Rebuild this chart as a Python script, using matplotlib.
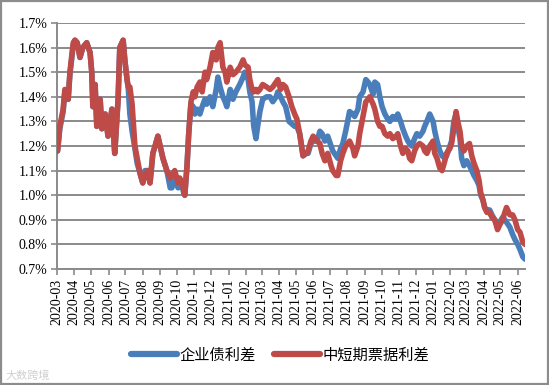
import matplotlib
matplotlib.use("Agg")
import matplotlib.pyplot as plt
import matplotlib.dates as mdates
import pandas as pd
from matplotlib.patches import Rectangle
from matplotlib.ticker import FuncFormatter

dates = [
    "2020-03-02","2020-03-06","2020-03-12","2020-03-15","2020-03-21","2020-03-24","2020-03-30",
    "2020-04-02","2020-04-06","2020-04-11","2020-04-16","2020-04-23","2020-04-29",
    "2020-05-02","2020-05-04","2020-05-08","2020-05-11","2020-05-17","2020-05-20","2020-05-26","2020-05-31",
    "2020-06-07","2020-06-12","2020-06-18","2020-06-21","2020-06-27","2020-06-30",
    "2020-07-04","2020-07-06","2020-07-09","2020-07-13","2020-07-18","2020-07-22","2020-07-27",
    "2020-08-01","2020-08-05","2020-08-10","2020-08-14","2020-08-19","2020-08-23","2020-08-28",
    "2020-09-01","2020-09-06","2020-09-13","2020-09-19","2020-09-22","2020-09-27",
    "2020-10-03","2020-10-06","2020-10-10","2020-10-13","2020-10-15","2020-10-19","2020-10-22","2020-10-26","2020-10-30",
    "2020-11-02","2020-11-06","2020-11-11","2020-11-15","2020-11-20","2020-11-23","2020-11-29",
    "2020-12-04","2020-12-10","2020-12-13","2020-12-17","2020-12-22","2020-12-26","2020-12-29",
    "2021-01-04","2021-01-09","2021-01-14","2021-01-21","2021-01-27","2021-01-30",
    "2021-02-05","2021-02-08","2021-02-12","2021-02-15","2021-02-19","2021-02-22","2021-02-26",
    "2021-03-03","2021-03-10","2021-03-16","2021-03-21","2021-03-27","2021-03-30",
    "2021-04-04","2021-04-08","2021-04-13","2021-04-19","2021-04-24","2021-04-29",
    "2021-05-03","2021-05-08","2021-05-14","2021-05-19","2021-05-23","2021-05-28",
    "2021-06-01","2021-06-08","2021-06-13","2021-06-17","2021-06-22","2021-06-27",
    "2021-07-03","2021-07-06","2021-07-12","2021-07-15","2021-07-20","2021-07-24","2021-07-29",
    "2021-08-05","2021-08-11","2021-08-14","2021-08-20","2021-08-23","2021-08-29",
    "2021-09-03","2021-09-07","2021-09-10","2021-09-16","2021-09-19","2021-09-24","2021-09-28",
    "2021-10-02","2021-10-07","2021-10-12","2021-10-16","2021-10-21","2021-10-27","2021-10-30",
    "2021-11-04","2021-11-08","2021-11-13","2021-11-17","2021-11-20","2021-11-24","2021-11-29",
    "2021-12-03","2021-12-08","2021-12-14","2021-12-17","2021-12-21","2021-12-26",
    "2022-01-01","2022-01-04","2022-01-08","2022-01-13","2022-01-17","2022-01-22","2022-01-25","2022-01-31",
    "2022-02-03","2022-02-07","2022-02-11","2022-02-14","2022-02-18","2022-02-21","2022-02-25",
    "2022-03-02","2022-03-07","2022-03-11","2022-03-15","2022-03-20","2022-03-24","2022-03-27","2022-03-31",
    "2022-04-03","2022-04-07","2022-04-12","2022-04-16","2022-04-21","2022-04-26","2022-04-30",
    "2022-05-05","2022-05-09","2022-05-12","2022-05-18","2022-05-23","2022-05-27",
    "2022-06-01","2022-06-05","2022-06-10","2022-06-14",
]

corp_bond = [  # 企业债利差 (%)
    1.18,1.27,1.34,1.42,1.39,1.49,1.61,
    1.63,1.62,1.56,1.60,1.62,1.58,
    1.50,1.36,1.45,1.28,1.39,1.27,1.33,1.24,
    1.35,1.17,1.39,1.60,1.63,1.55,
    1.47,1.44,1.33,1.26,1.19,1.13,1.09,
    1.05,1.10,1.10,1.05,1.17,1.20,1.24,
    1.20,1.15,1.10,1.03,1.03,1.08,
    1.03,1.06,1.04,1.01,1.00,1.12,1.25,1.37,1.36,
    1.33,1.35,1.33,1.36,1.39,1.37,1.40,
    1.36,1.43,1.48,1.44,1.40,1.38,1.36,
    1.43,1.39,1.42,1.45,1.48,1.50,
    1.47,1.42,1.38,1.28,1.23,1.28,1.34,
    1.39,1.40,1.40,1.38,1.40,1.42,
    1.40,1.38,1.36,1.30,1.29,1.28,
    1.28,1.25,1.16,1.17,1.17,1.21,
    1.22,1.22,1.26,1.25,1.22,1.24,
    1.20,1.18,1.16,1.15,1.19,1.21,1.26,
    1.34,1.33,1.32,1.35,1.40,1.42,
    1.47,1.46,1.45,1.41,1.46,1.45,1.40,
    1.36,1.33,1.31,1.30,1.32,1.31,1.33,
    1.30,1.27,1.24,1.22,1.21,1.20,1.23,
    1.25,1.24,1.26,1.28,1.30,1.33,
    1.30,1.26,1.22,1.18,1.16,1.15,1.16,1.20,
    1.22,1.30,1.33,1.28,1.23,1.15,1.12,
    1.14,1.12,1.10,1.08,1.06,1.04,1.00,0.98,
    0.95,0.94,0.94,0.92,0.90,0.88,0.89,
    0.91,0.90,0.89,0.87,0.84,0.82,
    0.80,0.78,0.75,0.74,
]

mtn_cp = [  # 中短期票据利差 (%)
    1.18,1.28,1.35,1.43,1.39,1.50,1.62,
    1.63,1.62,1.56,1.60,1.62,1.58,
    1.50,1.36,1.45,1.28,1.39,1.27,1.33,1.24,
    1.35,1.17,1.39,1.60,1.63,1.55,
    1.47,1.44,1.44,1.37,1.20,1.15,1.09,
    1.05,1.08,1.10,1.05,1.17,1.20,1.24,
    1.20,1.15,1.10,1.07,1.08,1.10,
    1.05,1.07,1.05,1.02,1.00,1.12,1.25,1.38,1.42,
    1.40,1.44,1.46,1.42,1.50,1.47,1.52,
    1.58,1.55,1.60,1.62,1.52,1.50,1.46,
    1.52,1.49,1.50,1.52,1.55,1.53,
    1.52,1.47,1.43,1.42,1.43,1.42,1.43,
    1.45,1.44,1.43,1.44,1.46,1.47,
    1.43,1.45,1.44,1.40,1.36,1.33,
    1.31,1.25,1.16,1.17,1.18,1.22,
    1.24,1.22,1.21,1.17,1.14,1.17,
    1.12,1.10,1.08,1.08,1.14,1.17,1.20,
    1.22,1.19,1.16,1.20,1.25,1.32,
    1.38,1.39,1.40,1.37,1.35,1.30,1.28,
    1.28,1.25,1.24,1.25,1.23,1.24,1.25,
    1.20,1.17,1.19,1.18,1.15,1.14,1.18,
    1.20,1.21,1.20,1.18,1.17,1.20,
    1.22,1.17,1.15,1.11,1.10,1.14,1.17,1.19,
    1.21,1.27,1.34,1.30,1.26,1.20,1.18,
    1.20,1.21,1.16,1.13,1.10,1.06,1.01,0.98,
    0.95,0.93,0.93,0.91,0.90,0.86,0.88,
    0.90,0.93,0.95,0.92,0.92,0.90,
    0.86,0.85,0.81,0.80,
]

series_names = ["企业债利差", "中短期票据利差"]
tick_months = pd.date_range("2020-03-01", "2022-06-01", freq="MS")
y_ticks = [0.7, 0.8, 0.9, 1.0, 1.1, 1.2, 1.3, 1.4, 1.5, 1.6, 1.7]

x = pd.to_datetime(dates)

fig = plt.figure(figsize=(5.49, 3.85), dpi=100)
fig.patches.append(Rectangle((0.0015, 0.002), 0.997, 0.996, transform=fig.transFigure,
                             fill=False, edgecolor="#8c8c8c", linewidth=1.6))
ax = fig.add_axes([57/549, 1-269/385, (525-57)/549, (269-23)/385])

blue = "#4a7ebb"
red = "#be4b48"
ax.plot(x, corp_bond, color=blue, lw=4.0, solid_capstyle="round", solid_joinstyle="round",
        label=series_names[0], zorder=3)
ax.plot(x, mtn_cp, color=red, lw=4.0, solid_capstyle="round", solid_joinstyle="round",
        label=series_names[1], zorder=4)

ax.set_ylim(0.7, 1.7)
ax.set_yticks(y_ticks)
ax.yaxis.set_major_formatter(FuncFormatter(lambda v, p: f"{v:.1f}%"))
ax.set_xlim(pd.Timestamp("2020-03-01"), pd.Timestamp("2022-06-14"))
ax.set_xticks(tick_months)
ax.set_xticklabels([d.strftime("%Y-%m") for d in tick_months], rotation=90)

ax.grid(axis="y", color="#8a8a8a", lw=1.4)
ax.set_axisbelow(True)
for s in ["top", "right"]:
    ax.spines[s].set_visible(False)
for s in ["left", "bottom"]:
    ax.spines[s].set_color("#8a8a8a")
    ax.spines[s].set_linewidth(1.4)
ax.tick_params(axis="both", colors="#8a8a8a", length=4, width=1.2, direction="out",
               labelcolor="black", labelsize=10, pad=3)
for lab in ax.get_xticklabels() + ax.get_yticklabels():
    lab.set_fontfamily("Liberation Serif")

leg = fig.legend(loc="center", bbox_to_anchor=(0.51, 1-355/385), ncol=2, frameon=False,
                 prop={"family": ["Noto Sans CJK SC", "DejaVu Sans"], "size": 11},
                 handlelength=3.0, columnspacing=1.2, handletextpad=0.15)
for h in leg.get_lines():
    h.set_linewidth(4.5)

fig.text(0.01, 0.015, "大数跨境", fontsize=8, color="#d0d0d0",
         family=["Noto Sans CJK SC", "DejaVu Sans"])

fig.savefig("out.png", dpi=100)
